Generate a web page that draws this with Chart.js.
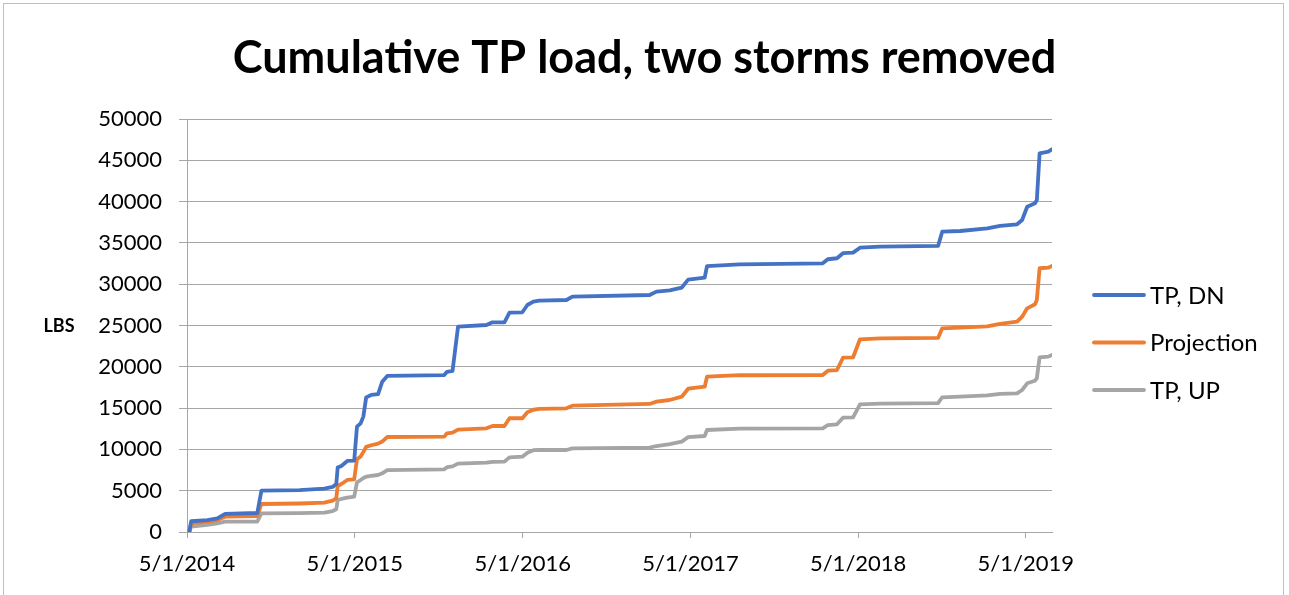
<!DOCTYPE html>
<html>
<head>
<meta charset="utf-8">
<script src="https://cdn.jsdelivr.net/npm/chart.js@4.4.1/dist/chart.umd.min.js"></script>
<style>
  html, body { margin: 0; padding: 0; background: #fff; }
  #wrap { position: relative; width: 1289px; height: 595px; }
</style>
</head>
<body>
<div id="wrap"><canvas id="loadChart" width="1289" height="595"></canvas></div>
<script>
// sample dates (shared by all three series)
var dates = [
	"2014-05-06","2014-05-10","2014-06-14","2014-07-06","2014-07-23","2014-10-01","2014-10-10",
	"2015-01-01","2015-02-24","2015-03-14","2015-03-22","2015-03-25","2015-04-02","2015-04-15",
	"2015-04-30","2015-05-06","2015-05-14","2015-05-20","2015-05-26","2015-06-06","2015-06-21",
	"2015-06-30","2015-07-11","2015-11-12","2015-11-18","2015-11-30","2015-12-12","2016-02-12",
	"2016-02-25","2016-03-22","2016-04-02","2016-04-30","2016-05-11","2016-05-24","2016-06-06",
	"2016-08-04","2016-08-17","2017-02-01","2017-02-16","2017-03-17","2017-04-12","2017-04-26",
	"2017-06-01","2017-06-06","2017-08-16","2018-02-13","2018-02-24","2018-03-16","2018-03-29",
	"2018-04-20","2018-05-05","2018-06-18","2018-10-22","2018-10-31","2018-12-09","2019-02-06",
	"2019-03-06","2019-04-12","2019-04-23","2019-05-04","2019-05-21","2019-05-25","2019-05-31",
	"2019-06-19","2019-06-27"
];

var tpDN = [
	0,1300,1450,1650,2200,2300,5000,
	5080,5250,5450,5800,7800,8000,8600,
	8650,12750,13150,14000,16300,16590,16700,
	18200,18900,19000,19400,19500,24860,25060,
	25390,25390,26550,26600,27480,27900,28000,
	28090,28490,28690,29100,29250,29580,30550,
	30790,32200,32410,32530,33020,33140,33750,
	33820,34420,34540,34630,36360,36440,36770,
	37050,37250,37770,39380,39790,40190,45850,
	46040,46330
];

var projection = [
	0,1050,1250,1450,1850,1940,3390,
	3450,3550,3790,4080,5570,5810,6300,
	6380,8800,9150,9700,10300,10500,10700,
	10950,11500,11550,11950,12020,12400,12550,
	12830,12830,13770,13770,14500,14800,14900,
	14970,15290,15500,15780,15980,16380,17350,
	17590,18800,18980,19010,19530,19610,21100,
	21150,23330,23450,23490,24660,24740,24900,
	25200,25460,26070,27080,27570,28090,31930,
	32000,32200
];

var tpUP = [
	0,640,850,1050,1250,1250,2260,
	2290,2340,2540,2750,3870,4000,4150,
	4270,6000,6300,6550,6700,6800,6900,
	7100,7500,7590,7850,7950,8280,8390,
	8500,8520,9040,9120,9600,9900,9930,
	9930,10130,10210,10410,10650,10940,11480,
	11620,12350,12520,12550,12950,13040,13840,
	13880,15450,15550,15600,16310,16380,16550,
	16710,16790,17190,18000,18320,18610,21150,
	21230,21430
];

var tickDates = ["2014-05-01","2015-05-01","2016-05-01","2017-05-01","2018-05-01","2019-05-01"];
var tickLabels = ["5/1/2014","5/1/2015","5/1/2016","5/1/2017","5/1/2018","5/1/2019"];

var seriesNames = ["TP, DN","Projection","TP, UP"];
var seriesColors = ["#4472C4","#ED7D31","#A5A5A5"];

var FONT = "Lato, 'Open Sans', sans-serif";

function dayNum(s) {
	var p = s.split("-");
	return (Date.UTC(+p[0], +p[1] - 1, +p[2]) - Date.UTC(2014, 4, 1)) / 86400000;
}

function toPoints(vals) {
	var pts = [];
	for(var i = 0;i < dates.length;++i) {
		pts.push({x: dayNum(dates[i]), y: vals[i]});
	}
	return pts;
}

var tickDays = tickDates.map(dayNum);

var datasets = [tpDN, projection, tpUP].map(function(vals, i) {
	return {
		label: seriesNames[i],
		data: toPoints(vals),
		borderColor: seriesColors[i],
		backgroundColor: seriesColors[i],
		borderWidth: 3.8,
		pointRadius: 0,
		tension: 0,
		borderJoinStyle: 'round',
		borderCapStyle: 'round'
	};
});

// frame, "LBS" label and the legend drawn next to the plot
var extras = {
	id: 'extras',
	beforeDraw: function(chart) {
		var ctx = chart.ctx;
		ctx.save();
		ctx.fillStyle = "#fff";
		ctx.fillRect(0, 0, chart.width, chart.height);
		ctx.strokeStyle = "#bfbfbf";
		ctx.lineWidth = 1;
		ctx.strokeRect(3.5, 3.5, 1280, 620);
		ctx.restore();
	},
	afterDraw: function(chart) {
		var ctx = chart.ctx;
		ctx.save();
		ctx.fillStyle = "#000";
		ctx.font = "bold 18px " + FONT;
		ctx.textAlign = "center";
		ctx.textBaseline = "middle";
		ctx.fillText("LBS", 59, 326);
		ctx.font = "24px " + FONT;
		ctx.textAlign = "left";
		for(var i = 0;i < chart.data.datasets.length;++i) {
			var ds = chart.data.datasets[i];
			var y = 295 + i * 47.5;
			ctx.strokeStyle = ds.borderColor;
			ctx.lineWidth = 3.8;
			ctx.lineCap = "round";
			ctx.beginPath();
			ctx.moveTo(1094, y);
			ctx.lineTo(1144, y);
			ctx.stroke();
			ctx.fillText(ds.label, 1150, y + 1);
		}
		ctx.restore();
	}
};

var config = {
	type: 'line',
	data: {datasets: datasets},
	options: {
		responsive: false,
		animation: false,
		layout: {padding: 0},
		plugins: {
			legend: {display: false},
			tooltip: {enabled: false},
			title: {
				display: true,
				text: "Cumulative TP load, two storms removed",
				color: "#000",
				font: {family: FONT, size: 45, weight: 'bold'},
				padding: {top: 31, bottom: 34}
			}
		},
		scales: {
			x: {
				type: 'linear',
				min: 0,
				max: dayNum(dates[dates.length - 1]),
				afterBuildTicks: function(s) {
					s.ticks = tickDays.map(function(d) { return {value: d}; });
				},
				afterFit: function(s) { s.height = 63; },
				ticks: {
					autoSkip: false,
					maxRotation: 0,
					padding: 13,
					color: "#000",
					font: {family: FONT, size: 22},
					callback: function(v) {
						var k = tickDays.indexOf(v);
						return k >= 0 ? tickLabels[k] : "";
					}
				},
				grid: {drawOnChartArea: false, tickLength: 6, color: "#a6a6a6", lineWidth: 1},
				border: {color: "#a6a6a6", width: 1}
			},
			y: {
				min: 0,
				max: 50000,
				afterFit: function(s) { s.width = 187; },
				ticks: {
					stepSize: 5000,
					padding: 17,
					color: "#000",
					font: {family: FONT, size: 22},
					callback: function(v) { return String(v); }
				},
				grid: {color: "#a6a6a6", lineWidth: 1, tickLength: 8},
				border: {color: "#a6a6a6", width: 1}
			},
			// empty axis that keeps room on the right for the legend
			side: {
				position: 'right',
				display: true,
				afterFit: function(s) { s.width = 237; },
				ticks: {display: false},
				grid: {display: false},
				border: {display: false}
			}
		}
	},
	plugins: [extras]
};

var loadChart = new Chart(document.getElementById('loadChart'), config);
</script>
</body>
</html>
